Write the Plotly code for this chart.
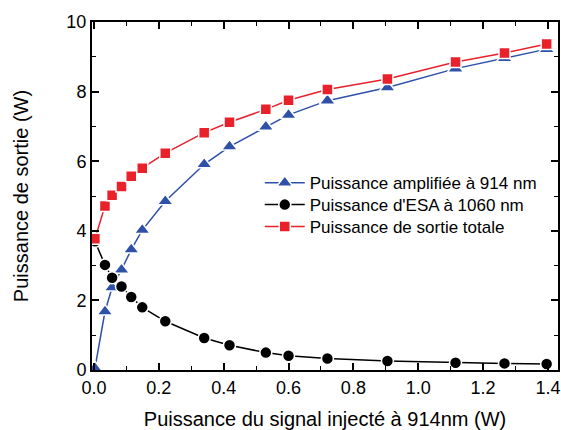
import plotly.graph_objects as go

x_signal = [0.003, 0.034, 0.056, 0.085, 0.115, 0.149, 0.22, 0.34, 0.418, 0.53, 0.60, 0.72, 0.905, 1.115, 1.266, 1.396]
p_914 = [0.05, 1.68, 2.37, 2.88, 3.46, 4.02, 4.85, 5.91, 6.42, 6.99, 7.33, 7.74, 8.12, 8.66, 8.96, 9.22]
p_esa = [3.70, 3.02, 2.65, 2.40, 2.10, 1.80, 1.40, 0.92, 0.71, 0.50, 0.41, 0.33, 0.26, 0.21, 0.19, 0.17]
p_total = [3.77, 4.71, 5.02, 5.27, 5.57, 5.80, 6.23, 6.82, 7.12, 7.49, 7.75, 8.06, 8.36, 8.85, 9.11, 9.37]

names = ["Puissance amplifiée à 914 nm", "Puissance d'ESA à 1060 nm", "Puissance de sortie totale"]

BLUE = "#2f50a8"
RED = "#e8212b"
BLACK = "#000000"

fig = go.Figure()
fig.add_trace(go.Scatter(x=x_signal, y=p_914, mode="lines+markers", name=names[0], legend="legend",
                         line=dict(color=BLUE, width=1.5),
                         marker=dict(symbol="triangle-up", size=14, color=BLUE,
                                     line=dict(color="white", width=1.5))))
fig.add_trace(go.Scatter(x=x_signal, y=p_esa, mode="lines+markers", name=names[1], legend="legend2",
                         line=dict(color=BLACK, width=1.5),
                         marker=dict(symbol="circle", size=12, color=BLACK,
                                     line=dict(color="white", width=1.5))))
fig.add_trace(go.Scatter(x=x_signal, y=p_total, mode="lines+markers", name=names[2], legend="legend3",
                         line=dict(color=RED, width=1.5),
                         marker=dict(symbol="square", size=11, color=RED,
                                     line=dict(color="white", width=1.5))))

font_family = "Liberation Sans, Arial, sans-serif"
axis_common = dict(showline=True, linecolor="black", linewidth=2, mirror="ticks",
                   ticks="inside", ticklen=7, tickwidth=1.5, tickcolor="black",
                   showgrid=False, zeroline=False, automargin=False,
                   tickfont=dict(family=font_family, size=18, color="black"))

fig.update_xaxes(range=[-0.006, 1.431], dtick=0.2, tick0=0, tickformat=".1f",
                 minor=dict(dtick=0.1, ticks="inside", ticklen=4, tickcolor="black", tickwidth=1.2),
                 title=dict(text="Puissance du signal injecté à 914nm (W)",
                            font=dict(family=font_family, size=20, color="black"), standoff=29),
                 **axis_common)
fig.update_yaxes(range=[0, 10], dtick=2, tick0=0,
                 minor=dict(dtick=1, ticks="inside", ticklen=4, tickcolor="black", tickwidth=1.2),
                 title=dict(text="Puissance de sortie (W)",
                            font=dict(family=font_family, size=20, color="black"), standoff=32),
                 **axis_common)

leg_common = dict(xanchor="left", yanchor="middle", x=0.36,
                  font=dict(family=font_family, size=17, color="black"),
                  bgcolor="rgba(0,0,0,0)", itemwidth=40)

fig.update_layout(
    width=561, height=430,
    margin=dict(l=92, r=3, t=22, b=60),
    plot_bgcolor="white", paper_bgcolor="white",
    legend=dict(y=0.537, **leg_common),
    legend2=dict(y=0.474, **leg_common),
    legend3=dict(y=0.411, **leg_common),
    showlegend=True,
)

fig.write_html("out.html", config={"displayModeBar": False},
               post_script="document.body.style.margin='0';document.body.style.overflow='hidden';")
